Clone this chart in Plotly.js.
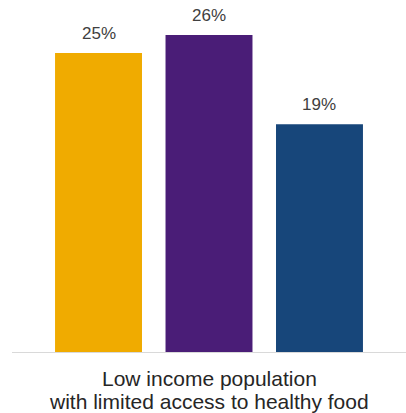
<!DOCTYPE html>
<html><head><meta charset="utf-8">
<script src="https://cdn.plot.ly/plotly-3.0.1.min.js"></script>
<style>html,body{margin:0;padding:0;background:#fff}#chart{width:406px;height:413px}</style>
</head><body><div id="chart"></div>
<script>
const categoryLines = ["Low income population", "with limited access to healthy food"];
const seriesNames = ["Series A", "Series B", "Series C"];
const seriesPositions = [0, 1, 2];
const seriesValues = [24.8, 26.3, 18.9];
const seriesLabels = ["25%", "26%", "19%"];
const seriesColors = ["#F0AB00", "#4A1D77", "#17467A"];

const FONT = "Liberation Sans, Arial, sans-serif";

const traces = [{
  type: "bar",
  x: seriesPositions,
  y: seriesValues,
  width: 0.787,
  marker: {color: seriesColors},
  hoverinfo: "none"
}];

const valueAnnotations = seriesPositions.map((p, i) => ({
  x: p, y: seriesValues[i], xref: "x", yref: "y",
  text: seriesLabels[i], showarrow: false,
  yanchor: "bottom", yshift: 8,
  font: {family: FONT, size: 17, color: "#404040"}
}));

const categoryAnnotations = categoryLines.map((t, i) => ({
  x: 1, y: 0, xref: "x", yref: "paper",
  text: t, showarrow: false,
  yanchor: "top", yshift: -13 - 23 * i,
  font: {family: FONT, size: 21, color: "#262626"}
}));

const layout = {
  width: 406, height: 413,
  margin: {l: 12, r: 0, t: 0, b: 61},
  showlegend: false,
  paper_bgcolor: "#fff", plot_bgcolor: "#fff",
  xaxis: {
    range: [-0.783, 2.783],
    showline: true, linecolor: "#D9D9D9", linewidth: 1,
    ticks: "", showgrid: false, zeroline: false, showticklabels: false
  },
  yaxis: {range: [0, 29.2], visible: false, showgrid: false, zeroline: false},
  annotations: valueAnnotations.concat(categoryAnnotations)
};
Plotly.newPlot("chart", traces, layout, {staticPlot: true, displayModeBar: false});
</script></body></html>
